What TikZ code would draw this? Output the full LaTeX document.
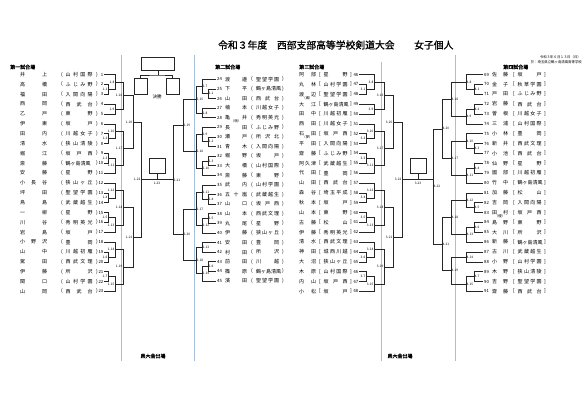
\documentclass[tikz,border=0pt]{standalone}
\usepackage{fontspec}
\setmainfont{Noto Sans CJK JP}
\newfontfamily\bfj[FakeBold=1.2]{Noto Sans CJK JP}
\definecolor{bl}{RGB}{165,192,218}
\tikzset{
 br/.style={draw=black!85,line width=0.45pt},
 nm/.style={font=\fontsize{5}{5}\selectfont,inner sep=0},
 nu/.style={font=\fontsize{4.3}{4.3}\selectfont,inner sep=0},
 lb/.style={font=\fontsize{3.2}{3.2}\selectfont,inner sep=0.2pt},
 nt/.style={font=\fontsize{3.4}{3.4}\selectfont,inner sep=0},
 sec/.style={font=\bfj\fontsize{5}{5}\selectfont,inner sep=0,anchor=west},
 bline/.style={draw=bl,line width=0.8pt}
}
% rightward junction: x1,y1,x2,y2,xj,label
\newcommand\JR[6]{\draw[br] (#1,#2) -- (#5,#2) -- (#5,#4) -- (#3,#4);
 \node[lb,anchor=east] at (#5-0.3,{(#2+#4)/2}) {#6};}
% leftward junction
\newcommand\JL[6]{\draw[br] (#1,#2) -- (#5,#2) -- (#5,#4) -- (#3,#4);
 \node[lb,anchor=west] at (#5+0.3,{(#2+#4)/2}) {#6};}
% column entries
\newcommand\EA[4]{\node[nm,anchor=west] at (20,#1) {\makebox[27pt][s]{#2}};
 \node[nm] at (62,#1) {(};
 \node[nm,anchor=west] at (65.5,#1) {\makebox[27pt][s]{#3}};
 \node[nm] at (97,#1) {)};
 \node[nu,anchor=east] at (103.5,#1) {#4};}
\newcommand\EB[4]{\node[nu,anchor=west] at (217,#1) {#4};
 \node[nm,anchor=west] at (225,#1) {\makebox[22pt][s]{#2}};
 \node[nm] at (252,#1) {(};
 \node[nm,anchor=west] at (256,#1) {\makebox[23pt][s]{#3}};
 \node[nm] at (283,#1) {)};}
\newcommand\EC[4]{\node[nm,anchor=west] at (299,#1) {\makebox[17pt][s]{#2}};
 \node[nm] at (320,#1) {[};
 \node[nm,anchor=west] at (323.5,#1) {\makebox[24pt][s]{#3}};
 \node[nm] at (351,#1) {]};
 \node[nu,anchor=east] at (358.5,#1) {#4};}
\newcommand\ED[4]{\node[nu,anchor=west] at (484,#1) {#4};
 \node[nm,anchor=west] at (492,#1) {\makebox[16pt][s]{#2}};
 \node[nm] at (514,#1) {[};
 \node[nm,anchor=west] at (517.5,#1) {\makebox[24pt][s]{#3}};
 \node[nm] at (545,#1) {]};}
\begin{document}
\begin{tikzpicture}[x=1pt,y=-1pt]
\useasboundingbox (0,0) rectangle (585,414);
\fill[white] (0,0) rectangle (585,414);
% guide lines
\draw[bline] (121,55) -- (121,361);
\draw[bline] (194,55) -- (194,361);
\draw[bline] (381,62) -- (381,361);
\draw[bline] (455,55) -- (455,361);
% title
\node[font=\bfj\fontsize{9.8}{9.8}\selectfont,anchor=west,inner sep=0] (title) at (218,45) {令和３年度　西部支部高等学校剣道大会　　女子個人};
\node[font=\fontsize{3.4}{3.4}\selectfont,anchor=east,inner sep=0] (date) at (581,57) {令和３年６月１３日（日）};
\node[font=\fontsize{3.4}{3.4}\selectfont,anchor=east,inner sep=0] (place) at (582,62) {於：埼玉県立鶴ヶ島清風高等学校};
\node[sec] (s1) at (10,67) {第一試合場};
\node[sec] (s2) at (215,67) {第二試合場};
\node[sec] (s3) at (299,67) {第三試合場};
\node[sec] (s4) at (503,67) {第四試合場};
\node[sec,anchor=center] (k1) at (153,356) {県大会出場};
\node[sec,anchor=center] (k2) at (400,356) {県大会出場};
% ---------- column 1 ----------
\EA{74.5}{井 上}{山 村 国 際}{1}
\EA{84.4}{高 橋}{ふ じ み 野}{2}
\EA{94.2}{福 田}{入 間 向 陽}{3}
\EA{104.1}{西 岡}{西 武 台}{4}
\EA{113.9}{乙 戸}{東 野}{5}
\EA{123.8}{伊 東}{坂 戸}{6}
\EA{133.7}{田 内}{川 越 女 子}{7}
\EA{143.5}{清 水}{狭 山 清 陵}{8}
\EA{153.4}{堀 江}{坂 戸 西}{9}
\EA{163.2}{斎 藤}{鶴ヶ島清風}{10}
\EA{173.1}{安 藤}{星 野}{11}
\EA{183.0}{小 長 谷}{狭 山 ヶ 丘}{12}
\EA{192.8}{坪 田}{聖 望 学 園}{13}
\EA{202.7}{鳥 島}{武 蔵 越 生}{14}
\EA{212.5}{一 柳}{星 野}{15}
\EA{222.4}{川 谷}{秀 明 英 光}{16}
\EA{232.3}{岩 島}{坂 戸}{17}
\EA{242.1}{小 野 沢}{豊 岡}{18}
\EA{252.0}{山 中}{川 越 初 雁}{19}
\EA{261.8}{駕 田}{西 武 文 理}{20}
\EA{271.7}{伊 藤}{所 沢}{21}
\EA{281.6}{関 口}{山 村 学 園}{22}
\EA{291.4}{山 岡}{西 武 台}{23}
% ---------- column 2 ----------
\EB{79.3}{渡 邉}{聖 望 学 園}{24}
\EB{88.9}{下 平}{鶴ヶ島清風}{25}
\EB{98.5}{山 田}{西 武 台}{26}
\EB{108.1}{楠 本}{川 越 女 子}{27}
\EB{117.7}{亀 井}{秀 明 英 光}{28}
\node[nt] at (236,121.5) {（萌）};
\EB{127.3}{長 田}{ふ じ み 野}{29}
\EB{136.9}{瀬 戸}{所 沢 北}{30}
\EB{146.5}{青 木}{入 間 向 陽}{31}
\EB{156.1}{堀 野}{坂 戸}{32}
\EB{165.7}{大 橋}{山 村 国 際}{33}
\EB{175.3}{斎 藤}{東 野}{34}
\EB{184.9}{武 内}{山 村 学 園}{35}
\EB{194.5}{五 十 嵐}{武 蔵 越 生}{36}
\EB{204.1}{山 口}{坂 戸 西}{37}
\EB{213.7}{山 本}{西 武 文 理}{38}
\EB{223.3}{丸 尾}{星 野}{39}
\EB{232.9}{伊 藤}{狭 山 ヶ 丘}{40}
\EB{242.5}{安 田}{豊 岡}{41}
\EB{252.1}{村 田}{所 沢}{42}
\EB{261.7}{前 田}{川 越}{43}
\EB{271.3}{篠 原}{鶴ヶ島清風}{44}
\EB{280.9}{濱 田}{聖 望 学 園}{45}
% ---------- column 3 ----------
\EC{74.5}{阿 部}{星 野}{46}
\EC{84.4}{丸 林}{山 村 学 園}{47}
\EC{94.2}{渡 辺}{聖 望 学 園}{48}
\node[nt] at (307.5,98) {（楓）};
\EC{104.1}{大 江}{鶴ヶ島清風}{49}
\EC{113.9}{田 中}{川 越 初 雁}{50}
\EC{123.8}{西 田}{川 越 女 子}{51}
\EC{133.7}{石 田}{坂 戸 西}{52}
\node[nt] at (307.5,137.5) {（夢）};
\EC{143.5}{平 田}{入 間 向 陽}{53}
\EC{153.4}{齋 藤}{ふ じ み 野}{54}
\EC{163.2}{阿 久 津}{武 蔵 越 生}{55}
\EC{173.1}{代 田}{豊 岡}{56}
\EC{183.0}{山 田}{西 武 台}{57}
\EC{192.8}{森 谷}{埼 玉 平 成}{58}
\EC{202.7}{秋 本}{坂 戸}{59}
\EC{212.5}{山 本}{東 野}{60}
\EC{222.4}{古 藤}{松 山}{61}
\EC{232.3}{伊 藤}{秀 明 英 光}{62}
\EC{242.1}{清 水}{西 武 文 理}{63}
\EC{252.0}{神 田}{城 西 川 越}{64}
\EC{261.8}{大 沼}{狭 山 ヶ 丘}{65}
\EC{271.7}{木 原}{山 村 国 際}{66}
\EC{281.6}{内 山}{坂 戸 西}{67}
\EC{291.4}{小 松}{坂 戸}{68}
% ---------- column 4 ----------
\ED{74.5}{佐 藤}{坂 戸}{69}
\ED{84.4}{金 子}{秋 草 学 園}{70}
\ED{94.2}{戸 田}{ふ じ み 野}{71}
\ED{104.1}{岩 藤}{西 武 台}{72}
\ED{113.9}{曽 根}{川 越 女 子}{73}
\ED{123.8}{三 浦}{山 村 国 際}{74}
\ED{133.7}{小 林}{豊 岡}{75}
\ED{143.5}{新 井}{西 武 文 理}{76}
\ED{153.4}{小 池}{西 武 台}{77}
\ED{163.2}{仙 野}{星 野}{78}
\ED{173.1}{國 部}{川 越 初 雁}{79}
\ED{183.0}{竹 中}{鶴ヶ島清風}{80}
\ED{192.8}{加 藤}{松 山}{81}
\ED{202.7}{吉 岡}{入 間 向 陽}{82}
\ED{212.5}{田 村}{坂 戸 西}{83}
\node[nt] at (500,216.3) {（優）};
\ED{222.4}{島 野}{東 野}{84}
\ED{232.3}{大 川}{所 沢}{85}
\ED{242.1}{新 藤}{鶴ヶ島清風}{86}
\ED{252.0}{古 川}{武 蔵 越 生}{87}
\ED{261.8}{小 野}{山 村 学 園}{88}
\ED{271.7}{木 野}{狭 山 清 陵}{89}
\ED{281.6}{吉 野}{聖 望 学 園}{90}
\ED{291.4}{齋 藤}{西 武 台}{91}
% ---------- brackets col1 ----------
\JR{104}{84.4}{104}{94.2}{108}{1-1}
\JR{104}{74.5}{108}{89.3}{115}{1-8}
\JR{104}{104.1}{104}{113.9}{115}{1-9}
\JR{115}{81.9}{115}{109.0}{123}{1-16}
\JR{104}{133.7}{104}{143.5}{108}{1-2}
\JR{104}{123.8}{108}{138.6}{115}{1-10}
\JR{104}{153.4}{104}{163.2}{108}{1-3}
\JR{108}{158.3}{104}{173.1}{115}{1-11}
\JR{115}{131.2}{115}{165.7}{123}{1-17}
\JR{123}{95.45}{123}{148.45}{133}{1-20}
\JR{104}{192.8}{104}{202.7}{108}{1-4}
\JR{104}{183.0}{108}{197.75}{115}{1-12}
\JR{104}{212.5}{104}{222.4}{108}{1-5}
\JR{108}{217.45}{104}{232.3}{115}{1-13}
\JR{115}{190.4}{115}{224.9}{123}{1-18}
\JR{104}{252.0}{104}{261.8}{108}{1-6}
\JR{104}{242.1}{108}{256.9}{115}{1-14}
\JR{104}{271.7}{104}{281.6}{108}{1-7}
\JR{108}{276.6}{104}{291.4}{115}{1-15}
\JR{115}{249.5}{115}{284.0}{123}{1-19}
\JR{123}{207.6}{123}{266.75}{133}{1-21}
\JR{133}{121.95}{133}{237.2}{141}{1-22}
% ---------- brackets col2 ----------
\JL{216}{88.9}{216}{98.5}{208}{2-1}
\JL{216}{79.3}{208}{93.7}{202}{2-7}
\JL{216}{108.1}{216}{117.7}{202}{2-8}
\JL{202}{86.5}{202}{112.9}{196}{2-15}
\JL{216}{136.9}{216}{146.5}{208}{2-2}
\JL{216}{127.3}{208}{141.7}{202}{2-9}
\JL{216}{156.1}{216}{165.7}{208}{2-3}
\JL{208}{160.9}{216}{175.3}{202}{2-10}
\JL{202}{134.5}{202}{168.1}{196}{2-16}
\JL{196}{99.7}{196}{151.3}{183}{2-19}
\JL{216}{194.5}{216}{204.1}{208}{2-4}
\JL{216}{184.9}{208}{199.3}{202}{2-11}
\JL{216}{213.7}{216}{223.3}{208}{2-5}
\JL{208}{218.5}{216}{232.9}{202}{2-12}
\JL{202}{192.1}{202}{225.7}{196}{2-17}
\JL{216}{242.5}{216}{252.1}{202}{2-13}
\JL{216}{261.7}{216}{271.3}{208}{2-6}
\JL{208}{266.5}{216}{280.9}{202}{2-14}
\JL{202}{247.3}{202}{273.7}{196}{2-18}
\JL{196}{208.9}{196}{260.5}{183}{2-20}
\JL{183}{125.5}{183}{234.7}{173}{2-21}
% ---------- brackets col3 ----------
\JR{359}{84.4}{359}{94.2}{366}{3-1}
\JR{359}{74.5}{366}{89.3}{374}{3-8}
\JR{359}{104.1}{359}{113.9}{374}{3-9}
\JR{374}{81.9}{374}{109.0}{384}{3-16}
\JR{359}{133.7}{359}{143.5}{366}{3-2}
\JR{359}{123.8}{366}{138.6}{374}{3-10}
\JR{359}{153.4}{359}{163.2}{366}{3-3}
\JR{366}{158.3}{359}{173.1}{374}{3-11}
\JR{374}{131.2}{374}{165.7}{384}{3-17}
\JR{384}{95.45}{384}{148.45}{393}{3-20}
\JR{359}{192.8}{359}{202.7}{366}{3-4}
\JR{359}{183.0}{366}{197.75}{374}{3-12}
\JR{359}{212.5}{359}{222.4}{366}{3-5}
\JR{366}{217.45}{359}{232.3}{374}{3-13}
\JR{374}{190.4}{374}{224.9}{384}{3-18}
\JR{359}{252.0}{359}{261.8}{366}{3-6}
\JR{359}{242.1}{366}{256.9}{374}{3-14}
\JR{359}{271.7}{359}{281.6}{366}{3-7}
\JR{366}{276.6}{359}{291.4}{374}{3-15}
\JR{374}{249.5}{374}{284.0}{384}{3-19}
\JR{384}{207.6}{384}{266.75}{393}{3-21}
\JR{393}{121.95}{393}{237.2}{402}{3-22}
% ---------- brackets col4 ----------
\JL{483}{84.4}{483}{94.2}{474}{4-1}
\JL{483}{74.5}{474}{89.3}{466}{4-8}
\JL{483}{104.1}{483}{113.9}{474}{4-2}
\JL{474}{109.0}{483}{123.8}{466}{4-9}
\JL{466}{81.9}{466}{116.45}{451}{4-16}
\JL{483}{143.5}{483}{153.4}{474}{4-3}
\JL{483}{133.7}{474}{148.45}{466}{4-10}
\JL{483}{163.2}{483}{173.1}{474}{4-4}
\JL{474}{168.15}{483}{183.0}{466}{4-11}
\JL{466}{141.1}{466}{175.6}{451}{4-17}
\JL{451}{99.2}{451}{158.35}{442}{4-20}
\JL{483}{202.7}{483}{212.5}{474}{4-5}
\JL{483}{192.8}{474}{207.6}{466}{4-12}
\JL{483}{222.4}{483}{232.3}{474}{4-6}
\JL{474}{227.35}{483}{242.1}{466}{4-13}
\JL{466}{200.2}{466}{234.7}{451}{4-18}
\JL{483}{252.0}{483}{261.8}{466}{4-14}
\JL{483}{271.7}{483}{281.6}{474}{4-7}
\JL{474}{276.65}{483}{291.4}{466}{4-15}
\JL{466}{256.9}{466}{284.0}{451}{4-19}
\JL{451}{217.45}{451}{270.45}{442}{4-21}
\JL{442}{128.8}{442}{243.95}{433}{4-22}
% ---------- centre: left half ----------
\draw[br] (141,179.6) -- (173,179.6);
\node[br,rectangle,minimum width=16pt,minimum height=15pt,inner sep=0] (bxL) at (157,165.5) {};
\draw[br] (bxL.south) -- (157,179.6);
\node[lb] (mL) at (157,183) {1-23};
% ---------- centre: right half ----------
\draw[br] (402,179.6) -- (433,179.6);
\node[br,rectangle,minimum width=16pt,minimum height=15pt,inner sep=0] (bxR) at (418,165.5) {};
\draw[br] (bxR.south) -- (418,179.6);
\node[lb] (mR) at (418,183) {3-23};
% ---------- final ----------
\node[br,rectangle,minimum width=33pt,minimum height=13pt,inner sep=0] (champ) at (158,63.5) {};
\node[br,rectangle,minimum width=13pt,minimum height=16pt,inner sep=0] (fl) at (140.5,86) {};
\node[br,rectangle,minimum width=13pt,minimum height=16pt,inner sep=0] (fr) at (172.5,86) {};
\coordinate (fm) at (158,75);
\draw[br] (champ.south) -- (fm);
\draw[br] (fl.north) |- (fm) -| (fr.north);
\node[font=\fontsize{4.5}{4.5}\selectfont,inner sep=0] (kessho) at (157,97) {決勝};
\end{tikzpicture}
\end{document}
